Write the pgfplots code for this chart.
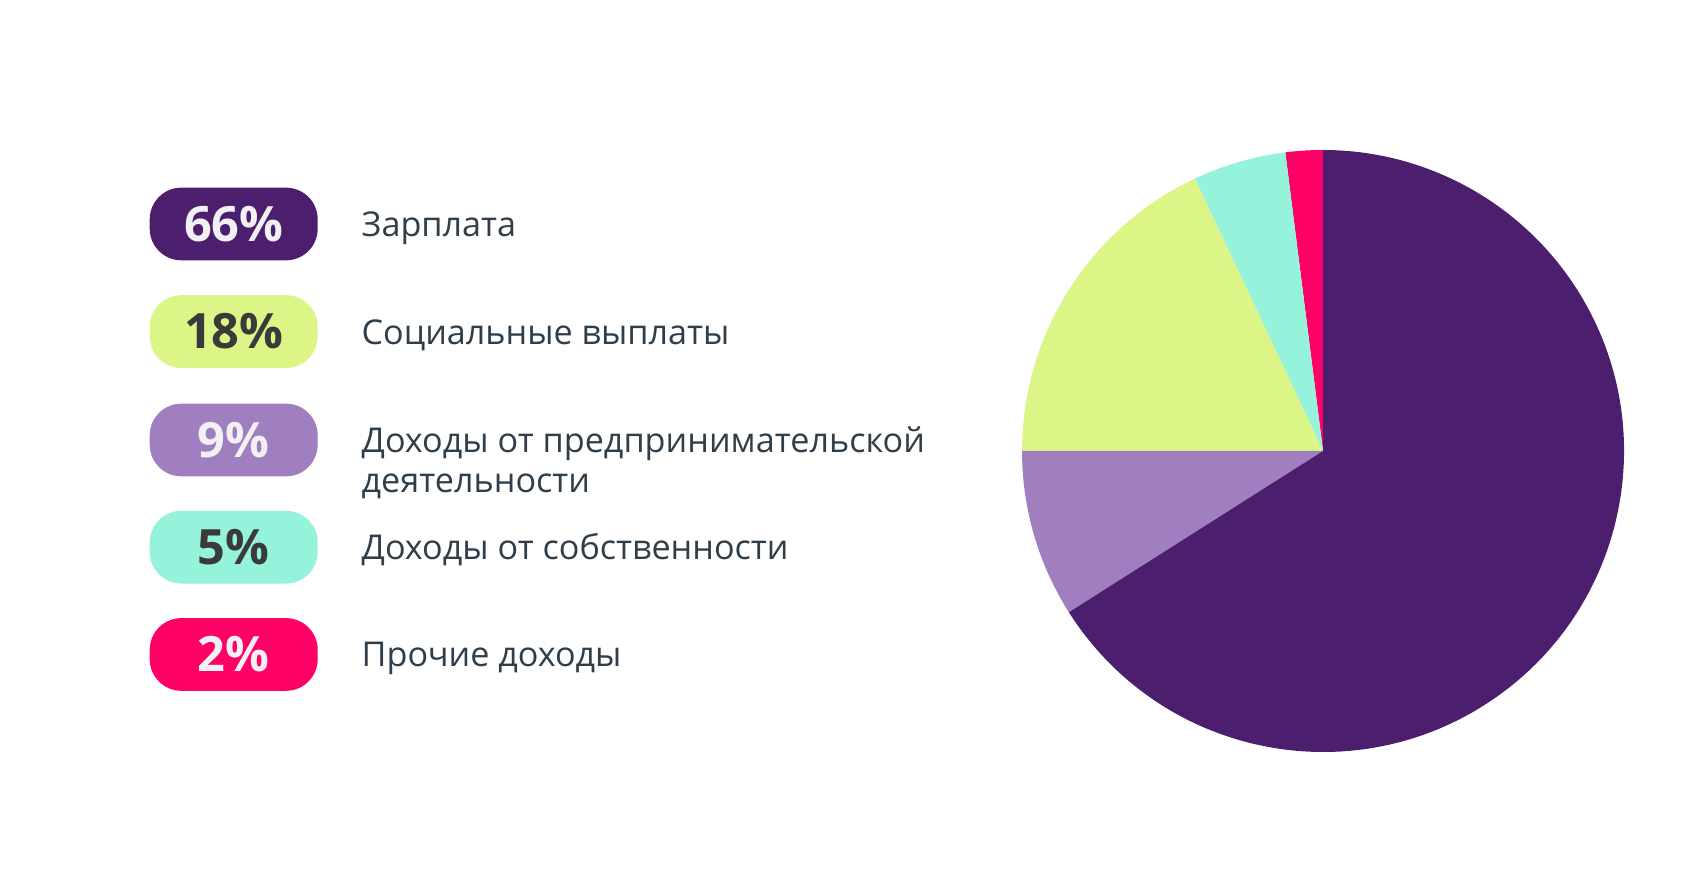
\documentclass[border=0pt]{standalone}
\usepackage{pgfplots}
\usepackage{pgfplotstable}
\pgfplotsset{compat=1.18}
\usepackage{fontspec}
\setmainfont{Open Sans}
\newfontfamily\pctfont{Open Sans}
\definecolor{cPurple}{HTML}{4B1E6E}
\definecolor{cYellow}{HTML}{DCF587}
\definecolor{cLilac}{HTML}{A07FC0}
\definecolor{cTeal}{HTML}{95F2DB}
\definecolor{cPink}{HTML}{FF0066}
\definecolor{cLight}{HTML}{F3F0F3}
\definecolor{cDark}{HTML}{3A3A3A}
\definecolor{cText}{HTML}{2F3E4A}

% shares in per cent, counter-clockwise from 12 o'clock
\pgfplotstableread{
idx value
0 2
1 5
2 18
3 9
4 66
}\pietable
\pgfplotstablegetelem{0}{value}\of\pietable \let\vPink\pgfplotsretval
\pgfplotstablegetelem{1}{value}\of\pietable \let\vTeal\pgfplotsretval
\pgfplotstablegetelem{2}{value}\of\pietable \let\vYellow\pgfplotsretval
\pgfplotstablegetelem{3}{value}\of\pietable \let\vLilac\pgfplotsretval
\pgfplotstablegetelem{4}{value}\of\pietable \let\vPurple\pgfplotsretval
\pgfmathsetmacro\aA{90}
\pgfmathsetmacro\aB{\aA+3.6*\vPink}
\pgfmathsetmacro\aC{\aB+3.6*\vTeal}
\pgfmathsetmacro\aD{\aC+3.6*\vYellow}
\pgfmathsetmacro\aE{\aD+3.6*\vLilac}
\pgfmathsetmacro\aF{\aE+3.6*\vPurple}
\def\cx{1323}
\def\cy{431}
\def\R{301}
\newcommand\slice[3]{%
  \fill[#1] (axis cs:\cx,\cy) -- (axis cs:{\cx+\R*cos(#2)},{\cy+\R*sin(#2)})
    arc[start angle=#2, end angle=#3, radius=\R] -- cycle;}
\newcommand\badge[4]{%
  \node[fill=#1, rounded corners=9.5pt, minimum width=50.4pt, minimum height=21.8pt,
        inner sep=0pt, text=#2, font=\pctfont\bfseries\fontsize{14.6}{18}\selectfont]
        at (axis cs:233.7,#3) {#4};}
\begin{document}
\begin{tikzpicture}
\begin{axis}[
  scale only axis, width=510pt, height=264.6pt,
  xmin=0, xmax=1700, ymin=0, ymax=882,
  hide axis, clip=false]
\path (rel axis cs:0,0) rectangle (rel axis cs:1,1);
\slice{cPink}{\aA}{\aB}
\slice{cTeal}{\aB}{\aC}
\slice{cYellow}{\aC}{\aD}
\slice{cLilac}{\aD}{\aE}
\slice{cPurple}{\aE}{\aF}
\badge{cPurple}{cLight}{658}{66\%}
\badge{cYellow}{cDark}{550.4}{18\%}
\badge{cLilac}{cLight}{442}{9\%}
\badge{cTeal}{cDark}{334.8}{5\%}
\badge{cPink}{cLight}{227.5}{2\%}
\begin{scope}[every node/.style={anchor=base west, inner sep=0pt, text=cText, font=\fontsize{10.25}{12}\selectfont}]
\node at (axis cs:361,645.5) {Зарплата};
\node at (axis cs:361,537.9) {Социальные выплаты};
\node at (axis cs:361,429.5) {Доходы от предпринимательской};
\node at (axis cs:361,389) {деятельности};
\node at (axis cs:361,322.3) {Доходы от собственности};
\node at (axis cs:361,215) {Прочие доходы};
\end{scope}
\end{axis}
\end{tikzpicture}
\end{document}
